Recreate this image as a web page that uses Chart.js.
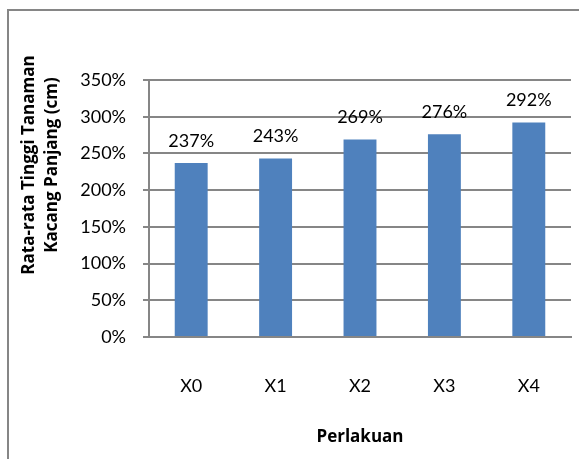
<!DOCTYPE html>
<html>
<head>
<meta charset="utf-8">
<script src="https://cdn.jsdelivr.net/npm/chart.js@4/dist/chart.umd.min.js"></script>
<style>
  html, body { margin: 0; padding: 0; background: #fff; }
  #wrap { position: relative; width: 579px; height: 459px; }
</style>
</head>
<body>
<div id="wrap"><canvas id="chart" width="579" height="459"></canvas></div>
<script>
const categories = ['X0', 'X1', 'X2', 'X3', 'X4'];
const values = [2.37, 2.43, 2.69, 2.76, 2.92];
const yTitleLines = ['Rata-rata Tinggi Tanaman', 'Kacang Panjang (cm)'];
const xTitle = 'Perlakuan';

const FONT = 'Lato, "Open Sans", sans-serif';
const TITLE_FONT = '"Open Sans", Lato, sans-serif';
const pct = v => Math.round(v * 100) + '%';

// frame round the chart (left and top edges only are visible)
const framePlugin = {
    id: 'frame',
    beforeDraw(chart) {
        const c = chart.ctx;
        c.save();
        c.strokeStyle = '#868686';
        c.lineWidth = 2;
        c.beginPath();
        c.moveTo(8, chart.height);
        c.lineTo(8, 10);
        c.lineTo(chart.width, 10);
        c.stroke();
        c.restore();
    }
};

// value labels above bars
const valueLabels = {
    id: 'valueLabels',
    afterDatasetsDraw(chart) {
        const c = chart.ctx;
        const meta = chart.getDatasetMeta(0);
        c.save();
        c.font = '18px ' + FONT;
        c.fillStyle = '#000';
        c.textAlign = 'center';
        c.textBaseline = 'middle';
        meta.data.forEach((bar, i) => {
            c.fillText(pct(values[i]), bar.x, bar.y - 22);
        });
        c.restore();
    }
};

// two-line rotated y title
const yTitlePlugin = {
    id: 'yTitle',
    afterDraw(chart) {
        const c = chart.ctx;
        c.save();
        c.font = 'bold 17px ' + TITLE_FONT;
        c.fillStyle = '#000';
        c.textAlign = 'center';
        c.textBaseline = 'alphabetic';
        [34, 57].forEach((x, i) => {
            c.save();
            c.translate(x, 165);
            c.rotate(-Math.PI / 2);
            c.fillText(yTitleLines[i], 0, 0);
            c.restore();
        });
        c.restore();
    }
};

new Chart(document.getElementById('chart'), {
    type: 'bar',
    data: {
        labels: categories,
        datasets: [{
            data: values,
            backgroundColor: '#4F81BD',
            borderWidth: 0,
            categoryPercentage: 1,
            barPercentage: 0.39
        }]
    },
    options: {
        responsive: false,
        animation: false,
        layout: { padding: { top: 80, right: 8, bottom: 0, left: 0 } },
        plugins: {
            legend: { display: false },
            tooltip: { enabled: false }
        },
        scales: {
            x: {
                grid: { display: false, drawTicks: false },
                border: { color: '#868686', width: 2 },
                ticks: { color: '#000', font: { family: FONT, size: 18 }, padding: 38 },
                title: {
                    display: true, text: xTitle, color: '#000',
                    font: { family: TITLE_FONT, size: 17, weight: 'bold' },
                    padding: { top: 0, bottom: 12 }
                },
                afterFit(scale) { scale.height = 122; }
            },
            y: {
                min: 0, max: 3.5,
                grid: { color: '#868686', lineWidth: 2, tickLength: 6 },
                border: { color: '#868686', width: 2 },
                ticks: {
                    stepSize: 0.5, color: '#000', padding: 17,
                    font: { family: FONT, size: 18 },
                    callback: v => pct(v)
                },
                afterFit(scale) { scale.width = 149; }
            }
        }
    },
    plugins: [framePlugin, valueLabels, yTitlePlugin]
});
</script>
</body>
</html>
